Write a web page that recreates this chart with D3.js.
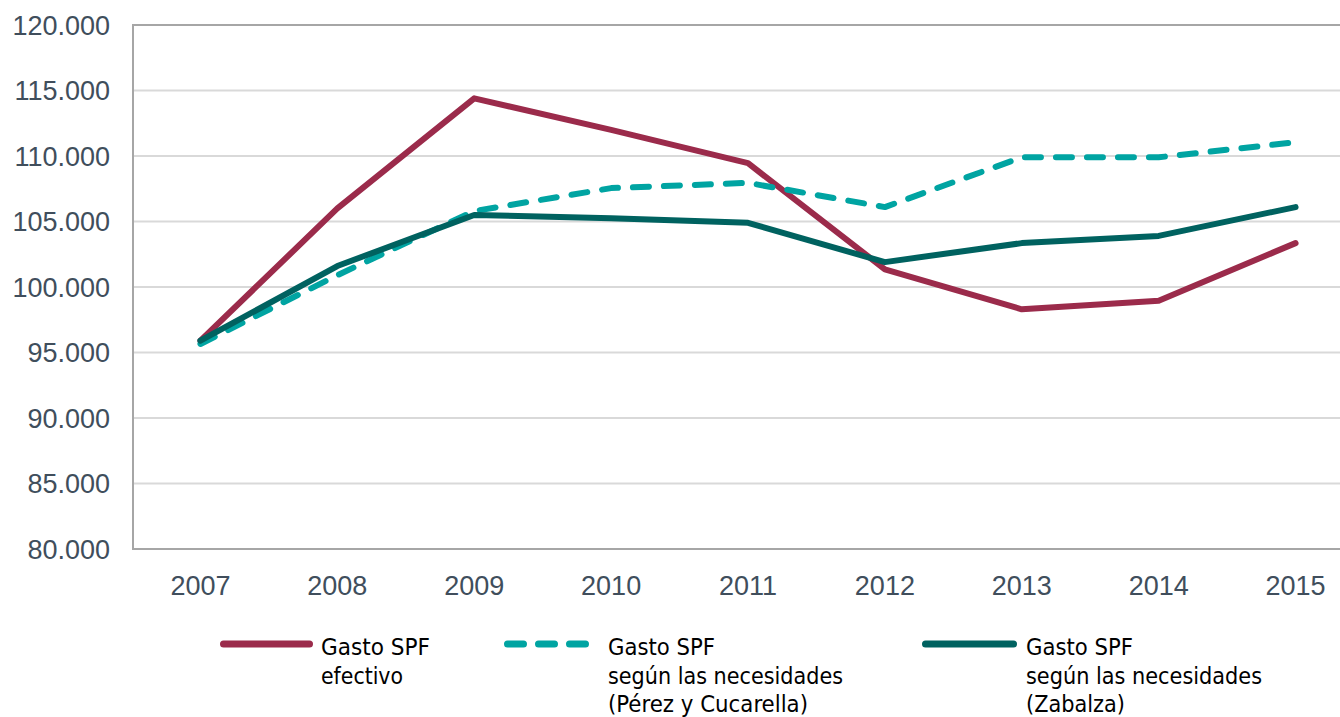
<html>
<head>
<meta http-equiv="Content-Type" content="text/html;charset=utf-8"/>
<script type="text/javascript" src="https://d3js.org/d3.v7.min.js"></script>
<style type="text/css">
body { margin: 0; background: #fff; }
.tick text { font-family: "Liberation Sans", Arial, sans-serif; font-size: 27px; fill: #404e5c; }
.legend text { font-family: "DejaVu Sans Condensed", "DejaVu Sans", sans-serif; font-size: 23px; fill: #000; }
</style>
</head>
<body>
<div id="chart"></div>
<script type="text/javascript">

var years = ["2007", "2008", "2009", "2010", "2011", "2012", "2013", "2014", "2015"];
var efectivo = [95900, 106000, 114400, 112000, 109450, 101350, 98300, 98950, 103350];
var perezCucarella = [95650, 100900, 105800, 107550, 107950, 106100, 109900, 109900, 111050];
var zabalza = [95900, 101600, 105500, 105250, 104900, 101900, 103350, 103900, 106100];
var yTicks = [80000, 85000, 90000, 95000, 100000, 105000, 110000, 115000, 120000];

var series = [
    { name: ["Gasto SPF", "efectivo"], values: efectivo, color: "#9b2b4b", dash: null },
    { name: ["Gasto SPF", "según las necesidades", "(Pérez y Cucarella)"], values: perezCucarella, color: "#00a4a2", dash: "16 15" },
    { name: ["Gasto SPF", "según las necesidades", "(Zabalza)"], values: zabalza, color: "#006260", dash: null }
];

var w = 1340, h = 717;
var plotLeft = 133, plotTop = 25, plotBottom = 549;

var x = d3.scaleBand().domain(years).range([132, 1364]).padding(0);
var y = d3.scaleLinear().domain([80000, 120000]).range([plotBottom, plotTop]);

var fmt = function(d) { return d3.format(",")(d).replace(/,/g, "."); };

var svg = d3.select("#chart").append("svg")
    .attr("width", w)
    .attr("height", h);

// grid
svg.append("g").selectAll("line")
    .data(yTicks.slice(1, -1))
    .enter().append("line")
    .attr("x1", plotLeft).attr("x2", w)
    .attr("y1", function(d) { return y(d); })
    .attr("y2", function(d) { return y(d); })
    .attr("stroke", "#d9d9d9")
    .attr("stroke-width", 2);

// frame
svg.append("line").attr("x1", plotLeft).attr("x2", w).attr("y1", plotTop).attr("y2", plotTop)
    .attr("stroke", "#a6a6a6").attr("stroke-width", 2);
svg.append("line").attr("x1", plotLeft).attr("x2", w).attr("y1", plotBottom).attr("y2", plotBottom)
    .attr("stroke", "#a6a6a6").attr("stroke-width", 2);
svg.append("line").attr("x1", plotLeft).attr("x2", plotLeft).attr("y1", plotTop - 1).attr("y2", plotBottom + 1)
    .attr("stroke", "#a6a6a6").attr("stroke-width", 2);

// axes
var yAxis = svg.append("g")
    .attr("transform", "translate(" + plotLeft + ",0)")
    .call(d3.axisLeft(y).tickValues(yTicks).tickFormat(fmt).tickSize(0).tickPadding(23));
yAxis.select(".domain").remove();
yAxis.selectAll("text").attr("dy", "0.35em");

var xAxis = svg.append("g")
    .attr("transform", "translate(0," + plotBottom + ")")
    .call(d3.axisBottom(x).tickSize(0));
xAxis.select(".domain").remove();
xAxis.selectAll("text").attr("dy", "0.71em").attr("y", 27);

// lines
var line = d3.line()
    .x(function(d, i) { return x(years[i]) + x.bandwidth() / 2; })
    .y(function(d) { return y(d); });

series.forEach(function(s) {
    svg.append("path")
        .attr("d", line(s.values))
        .attr("fill", "none")
        .attr("stroke", s.color)
        .attr("stroke-width", 6)
        .attr("stroke-linejoin", "round")
        .attr("stroke-linecap", "round")
        .attr("stroke-dasharray", s.dash);
});

// legend
var legendPos = [
    { x1: 223.5, x2: 309.5, tx: 321, lens: [109, 82] },
    { x1: 507.5, x2: 585.5, tx: 608, lens: [107, 235, 200] },
    { x1: 925.5, x2: 1013.5, tx: 1026, lens: [107, 236, 99] }
];
var legend = svg.append("g").attr("class", "legend");
series.forEach(function(s, i) {
    var p = legendPos[i];
    legend.append("line")
        .attr("x1", p.x1).attr("x2", p.x2)
        .attr("y1", 644).attr("y2", 644)
        .attr("stroke", s.color)
        .attr("stroke-width", 7)
        .attr("stroke-linecap", "round")
        .attr("stroke-dasharray", s.dash);
    s.name.forEach(function(t, j) {
        legend.append("text")
            .attr("x", p.tx)
            .attr("y", 655 + j * 28.5)
            .attr("textLength", p.lens[j])
            .attr("lengthAdjust", "spacingAndGlyphs")
            .text(t);
    });
});

</script>
</body>
</html>
